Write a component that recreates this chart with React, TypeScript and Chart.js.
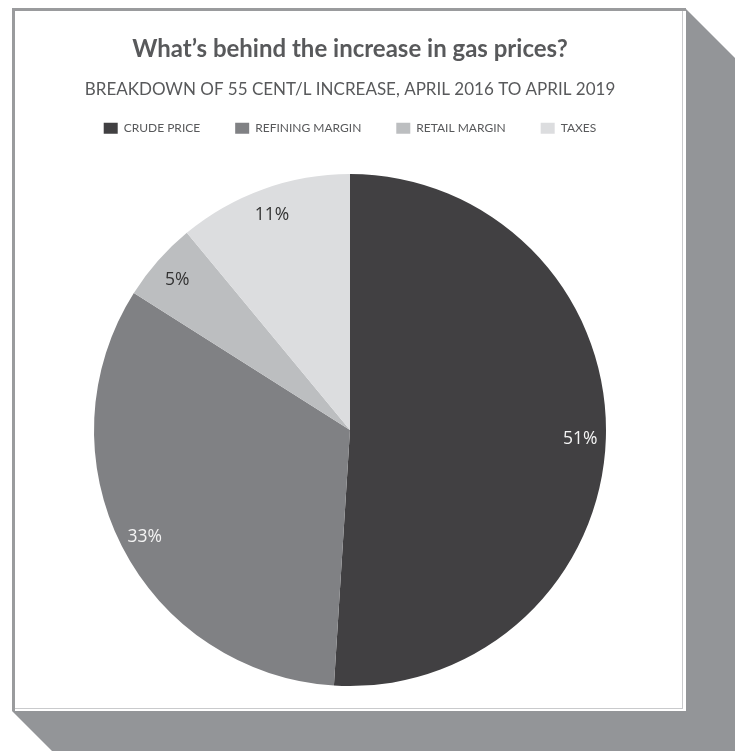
import React, { useEffect, useRef } from "react";
import { Chart, registerables } from "chart.js";

Chart.register(...registerables);

const categories = ["CRUDE PRICE", "REFINING MARGIN", "RETAIL MARGIN", "TAXES"];
const shares = [51, 33, 5, 11];
const sliceColors = ["#414042", "#808184", "#bcbec0", "#dcdddf"];
const labelColors = ["#f4f4f4", "#f4f4f4", "#333333", "#333333"];
const titleText = "What’s behind the increase in gas prices?";
const subtitleText = "BREAKDOWN OF 55 CENT/L INCREASE, APRIL 2016 TO APRIL 2019";

const framePlugin = {
  id: "frame",
  beforeDraw(chart: any) {
    const ctx = chart.ctx;
    ctx.save();
    ctx.fillStyle = "#939598";
    ctx.beginPath();
    ctx.moveTo(686, 9);
    ctx.lineTo(735, 58);
    ctx.lineTo(735, 751);
    ctx.lineTo(52, 751);
    ctx.lineTo(12, 711);
    ctx.lineTo(686, 711);
    ctx.closePath();
    ctx.fill();
    ctx.fillStyle = "#ffffff";
    ctx.fillRect(12, 8, 674, 703);
    ctx.fillStyle = "#9a9b9d";
    ctx.fillRect(12, 8, 674, 3);
    ctx.fillRect(12, 8, 3, 703);
    ctx.fillStyle = "#c9cacc";
    ctx.fillRect(682, 11, 1, 697);
    ctx.fillRect(15, 708, 668, 1);
    ctx.restore();
  },
};

const labelPlugin = {
  id: "sliceLabels",
  afterDatasetsDraw(chart: any) {
    const ctx = chart.ctx;
    const meta = chart.getDatasetMeta(0);
    ctx.save();
    ctx.font = "17.5px 'Open Sans'";
    ctx.textAlign = "center";
    ctx.textBaseline = "middle";
    meta.data.forEach((arc: any, i: number) => {
      const p = arc.getProps(["x", "y", "startAngle", "endAngle", "outerRadius"], true);
      const mid = (p.startAngle + p.endAngle) / 2;
      const r = p.outerRadius * 0.9;
      ctx.fillStyle = labelColors[i];
      ctx.fillText(shares[i] + "%", p.x + Math.cos(mid) * r, p.y + Math.sin(mid) * r + 2);
    });
    ctx.restore();
  },
};

export default function App() {
  const ref = useRef<HTMLCanvasElement | null>(null);
  useEffect(() => {
    if (!ref.current) return;
    const chart = new Chart(ref.current, {
      type: "pie",
      data: {
        labels: categories,
        datasets: [
          {
            data: shares,
            backgroundColor: sliceColors,
            borderWidth: 0,
            hoverOffset: 0,
            radius: 256,
          },
        ],
      },
      options: {
        animation: false,
        responsive: false,
        events: [],
        layout: { padding: { top: 11, left: 20, right: 61, bottom: 35 } },
        plugins: {
          title: {
            display: true,
            text: titleText,
            color: "#58595b",
            font: { family: "Lato", size: 24, weight: "bold", lineHeight: 1.2 },
            padding: { top: 24, bottom: 0 },
          },
          subtitle: {
            display: true,
            text: subtitleText,
            color: "#58595b",
            font: { family: "Lato", size: 17, weight: "normal", lineHeight: 1.2 },
            padding: { top: 16, bottom: -13 },
          },
          legend: {
            position: "top",
            labels: {
              boxWidth: 14,
              boxHeight: 11,
              padding: 35,
              color: "#58595b",
              font: { family: "Lato", size: 12 },
            },
          },
          tooltip: { enabled: false },
        },
      },
      plugins: [framePlugin, labelPlugin],
    });
    return () => chart.destroy();
  }, []);
  return (
    <div style={{ position: "absolute", left: 0, top: 0, width: 741, height: 751 }}>
      <canvas ref={ref} width={741} height={751} style={{ display: "block" }} />
    </div>
  );
}
